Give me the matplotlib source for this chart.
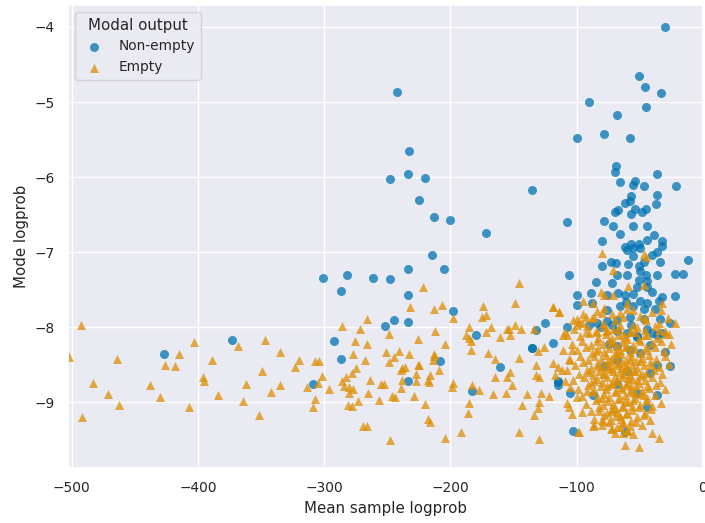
import matplotlib
matplotlib.use("Agg")
import matplotlib.pyplot as plt
import seaborn as sns

# Non-empty modal output (blue circles): (mean sample logprob, mode logprob)
nonempty_x = [
    -30, -51, -46, -33, -90, -45, -68, -100, -78, -58, -69, -70, -36, -21, -135,
    -242, -233, -248, -234, -220, -225, -213, -200, -172, -108,
    -215, -205, -234, -261, -282, -301, -248, -287, -234, -198, -234, -252, -245,
    -180, -292, -287, -309, -208, -161, -234, -183, -373, -427,
    -125, -132, -135,
    -66, -54, -55, -47, -36, -57, -62, -58, -37, -70, -67, -57, -54, -48, -45,
    -78, -71, -55, -44, -66, -39, -80, -32, -44, -32, -62, -57, -51, -60, -55,
    -50, -36, -40, -55, -12, -34, -73, -69, -59, -47, -80, -51,
    -106, -85, -68, -60, -50, -45, -44, -51, -72, -52, -44, -67, -89, -100, -76,
    -62, -55, -40, -32, -22, -36, -16, -22, -100, -88, -61, -50, -44, -35, -66, -55,
    -47, -38, -76, -108, -84, -68, -76, -58, -47, -34, -26, -44, -40, -32, -52,
    -68, -60, -72, -81, -90, -57,
    -119, -74, -68, -52, -42, -30, -36, -26, -78, -68, -60, -42, -115, -50, -58, -36,
    -115, -105, -103, -62, -36, -44, -52, -68, -87, -115, -135,
]
nonempty_y = [
    -4.0, -4.65, -4.8, -4.88, -5.0, -5.07, -5.17, -5.48, -5.43, -5.48, -5.85, -5.93, -5.96, -6.12, -6.17,
    -4.87, -5.65, -6.03, -5.96, -6.01, -6.31, -6.53, -6.57, -6.75, -6.6,
    -7.04, -7.23, -7.23, -7.35, -7.31, -7.35, -7.36, -7.52, -7.57, -7.79, -7.93, -7.99, -7.91,
    -8.11, -8.19, -8.43, -8.76, -8.45, -8.53, -8.72, -8.85, -8.17, -8.36,
    -7.95, -8.04, -8.28,
    -6.07, -6.05, -6.1, -6.12, -6.24, -6.25, -6.35, -6.32, -6.36, -6.47, -6.44, -6.49, -6.43, -6.47, -6.42,
    -6.59, -6.65, -6.65, -6.65, -6.76, -6.77, -6.85, -6.85, -6.84, -6.92, -6.93, -6.89, -6.89, -6.97, -6.95,
    -6.95, -7.0, -7.04, -7.05, -7.1, -7.13, -7.13, -7.15, -7.16, -7.13, -7.19, -7.19,
    -7.31, -7.4, -7.31, -7.31, -7.25, -7.31, -7.39, -7.37, -7.41, -7.47, -7.47, -7.55, -7.55, -7.57, -7.57,
    -7.57, -7.56, -7.53, -7.6, -7.59, -7.31, -7.29, -7.29, -7.71, -7.68, -7.67, -7.65, -7.68, -7.65, -7.72, -7.72,
    -7.76, -7.76, -7.77, -8.0, -7.95, -7.91, -7.92, -7.87, -7.89, -7.89, -7.95, -8.03, -8.08, -8.08, -8.12,
    -8.05, -8.08, -7.97, -8.0, -7.97, -7.97,
    -8.21, -8.23, -8.25, -8.13, -8.24, -8.33, -8.51, -8.52, -8.52, -8.44, -8.59, -8.61, -8.73, -8.35, -8.31, -8.11,
    -8.77, -8.88, -9.39, -9.4, -8.91, -9.07, -8.88, -8.76, -8.91, -8.72, -8.28,
]

# Empty modal output (orange triangles)
empty_x = [
    -493, -502, -483, -464, -471, -463, -492, -438, -430, -426, -418, -415, -403, -407,
    -396, -395, -389, -384, -368, -347, -362, -349, -364, -352, -342, -335,
    -335, -323, -320, -314, -307, -304, -302, -305, -307, -309, -296, -286, -286, -283,
    -284, -280, -280, -277, -275, -277, -276, -278, -281, -278, -273, -272, -266, -266,
    -268, -264, -265, -257, -269, -266, -255, -253, -251, -249, -245, -249, -248, -246,
    -244, -241, -239, -238, -236, -239, -238, -233, -232, -226, -229, -227, -227, -225,
    -220, -218, -222, -213, -207, -212, -204, -216, -218, -204, -192, -186, -185, -198,
    -199, -183, -177, -166, -156, -165, -155, -170, -165, -184, -184, -185, -188, -185,
    -174, -175, -172, -168, -172, -161, -155, -213, -209, -216, -217, -226, -198, -146,
    -149, -154, -149, -144, -153, -134, -126, -131, -146, -213, -214, -153, -151, -132,
    -132, -130, -139, -128, -122, -143, -130, -131, -134, -146, -130, -119, -114, -119,
    -115, -112, -117, -106, -104, -98, -86, -80, -72, -63, -59, -62, -51, -40, -35,
    -80, -47, -45, -71, -59, -47, -81, -71, -78, -87, -95, -119, -114, -78, -60, -55,
    -66, -80, -86, -93, -100, -32, -33, -46, -22, -27, -35, -100, -96, -93, -111, -84,
    -76, -63, -54, -46, -96, -87, -79, -73, -66, -99,
    -109, -103, -108, -111, -104, -105, -108, -109, -105, -100, -108,
    -95, -84, -72, -60, -50, -40,
    -98, -88, -79, -70, -63, -55, -45, -35, -28,
    -102, -92, -85, -78, -71, -66, -58, -52, -46, -38, -30,
    -97, -90, -83, -77, -72, -67, -62, -57, -51, -44, -36, -29,
    -104, -96, -89, -84, -79, -74, -69, -64, -60, -55, -50, -45, -40, -33, -25,
    -100, -93, -88, -83, -78, -74, -70, -66, -62, -58, -54, -49, -44, -38, -31,
    -106, -97, -91, -86, -81, -77, -73, -69, -65, -61, -57, -53, -48, -43, -37, -30,
    -101, -95, -89, -84, -80, -76, -72, -68, -64, -60, -56, -52, -47, -42, -35, -27,
    -98, -92, -87, -82, -78, -74, -70, -66, -62, -58, -54, -50, -45, -39, -32,
    -103, -94, -89, -84, -80, -76, -72, -68, -64, -60, -56, -51, -46, -40, -34,
    -99, -91, -86, -81, -77, -73, -69, -65, -61, -57, -53, -48, -43, -37, -30,
    -96, -88, -83, -78, -74, -70, -66, -62, -58, -54, -49, -44, -38,
    -93, -85, -79, -75, -71, -67, -63, -59, -55, -50, -45, -40, -33,
    -89, -82, -76, -72, -68, -64, -60, -56, -51, -46, -41,
    -86, -78, -73, -69, -65, -61, -57, -52, -47, -42,
    -80, -74, -68, -63, -58, -53, -48,
    -70, -60, -55,
    -65, -63, -67, -71, -59, -61, -69, -75, -55, -73, -57, -79, -64, -52, -68, -76,
    -58, -83, -62, -70, -48, -86, -66, -54, -80, -60, -72, -85, -50, -44, -90, -92,
    -67, -77, -56, -63, -73, -82, -47, -41,
]
empty_y = [
    -7.97, -8.4, -8.75, -8.43, -8.89, -9.04, -9.2, -8.77, -8.93, -8.51, -8.52, -8.36, -8.2, -9.07,
    -8.67, -8.72, -8.44, -8.91, -8.25, -8.17, -8.76, -8.59, -8.99, -9.17, -8.87, -8.33,
    -8.77, -8.53, -8.44, -8.8, -8.45, -8.45, -8.65, -8.75, -8.96, -9.07, -8.83, -7.99, -8.72, -8.67,
    -8.79, -8.8, -8.88, -8.83, -8.55, -8.36, -8.19, -8.61, -9.04, -9.05, -8.99, -8.03, -7.89, -8.23,
    -8.44, -8.71, -8.88, -8.97, -9.32, -9.32, -8.76, -8.76, -8.33, -8.47, -8.4, -8.09, -9.51, -8.92,
    -8.93, -8.32, -8.57, -8.55, -8.53, -8.81, -8.71, -8.36, -7.73, -8.16, -8.92, -8.63, -8.72, -8.51,
    -9.03, -8.71, -7.47, -7.76, -7.71, -8.05, -8.23, -9.27, -9.23, -9.48, -9.4, -9.15, -9.01, -8.75,
    -8.8, -8.77, -8.84, -8.89, -8.88, -8.67, -8.67, -8.35, -8.43, -8.31, -8.19, -8.15, -8.11, -8.0,
    -7.72, -7.87, -7.84, -8.0, -8.07, -8.13, -8.03, -8.36, -8.57, -8.64, -8.73, -8.51, -7.88, -7.41,
    -7.68, -8.03, -7.97, -8.03, -8.11, -8.03, -8.27, -8.32, -8.41, -8.39, -8.44, -8.6, -8.77, -8.51,
    -8.64, -8.67, -8.89, -8.88, -8.92, -9.04, -9.0, -9.08, -9.17, -9.4, -9.49, -7.73, -7.8, -8.48,
    -8.53, -8.57, -8.64, -9.07, -9.16, -9.4, -9.31, -9.24, -9.36, -9.41, -9.39, -9.57, -9.6, -9.41, -9.48,
    -7.01, -7.02, -7.06, -7.24, -7.45, -7.44, -7.53, -7.57, -7.57, -7.68, -7.65, -7.73, -7.8, -7.75, -7.68, -7.77,
    -7.81, -7.81, -7.87, -7.87, -7.89, -7.68, -7.77, -7.88, -7.95, -8.09, -8.04, -7.97, -7.95, -8.07, -8.11, -8.07,
    -8.04, -8.09, -8.07, -8.11, -9.13, -9.32, -9.25, -9.36, -9.33, -9.4,
    -8.07, -7.91, -8.11, -8.31, -8.31, -8.44, -8.57, -8.72, -8.8, -8.93, -9.01,
    -7.82, -7.78, -7.83, -7.76, -7.85, -7.8,
    -7.93, -7.88, -7.95, -7.9, -7.86, -7.97, -7.91, -7.94, -7.88,
    -8.02, -7.98, -8.05, -7.99, -8.03, -7.97, -8.06, -8.0, -8.04, -7.98, -8.05,
    -8.12, -8.08, -8.14, -8.09, -8.15, -8.1, -8.13, -8.07, -8.16, -8.11, -8.14, -8.09,
    -8.22, -8.18, -8.24, -8.19, -8.23, -8.17, -8.25, -8.2, -8.16, -8.24, -8.19, -8.26, -8.21, -8.18, -8.23,
    -8.31, -8.27, -8.34, -8.29, -8.33, -8.28, -8.35, -8.3, -8.26, -8.33, -8.29, -8.35, -8.3, -8.27, -8.32,
    -8.42, -8.38, -8.44, -8.39, -8.43, -8.37, -8.45, -8.4, -8.36, -8.44, -8.39, -8.45, -8.41, -8.37, -8.43, -8.39,
    -8.51, -8.47, -8.54, -8.49, -8.53, -8.46, -8.55, -8.5, -8.47, -8.54, -8.49, -8.55, -8.51, -8.46, -8.53, -8.49,
    -8.62, -8.57, -8.64, -8.59, -8.63, -8.56, -8.65, -8.6, -8.57, -8.64, -8.59, -8.65, -8.61, -8.57, -8.63,
    -8.71, -8.67, -8.74, -8.69, -8.73, -8.66, -8.75, -8.7, -8.67, -8.74, -8.69, -8.75, -8.71, -8.66, -8.73,
    -8.82, -8.77, -8.84, -8.79, -8.83, -8.76, -8.85, -8.8, -8.77, -8.84, -8.79, -8.85, -8.81, -8.77, -8.83,
    -8.92, -8.87, -8.94, -8.89, -8.93, -8.86, -8.95, -8.9, -8.87, -8.94, -8.89, -8.95, -8.91,
    -9.02, -8.97, -9.04, -8.99, -9.03, -8.96, -9.05, -9.0, -8.97, -9.04, -8.99, -9.05, -9.01,
    -9.12, -9.07, -9.14, -9.09, -9.13, -9.06, -9.15, -9.1, -9.07, -9.14, -9.09,
    -9.22, -9.17, -9.24, -9.19, -9.23, -9.16, -9.25, -9.2, -9.17, -9.24,
    -9.31, -9.27, -9.33, -9.28, -9.32, -9.26, -9.3,
    -9.41, -9.37, -9.43,
    -8.55, -8.62, -8.48, -8.58, -8.68, -8.5, -8.72, -8.52, -8.58, -8.42, -8.78, -8.62, -8.82, -8.7, -8.33, -8.78,
    -8.43, -8.52, -8.98, -9.08, -8.62, -8.72, -9.18, -8.88, -8.95, -8.25, -8.2, -8.32, -8.45, -8.78, -8.6, -8.85,
    -8.02, -8.05, -9.05, -9.28, -9.12, -9.12, -8.9, -8.5,
]

sns.set_theme(style="darkgrid", font_scale=0.9)
pal = sns.color_palette("colorblind")

fig = plt.figure(figsize=(7.05, 5.23), dpi=100)
ax = fig.add_axes([0.0965, 0.105, 0.9005, 0.885])

ax.scatter(nonempty_x, nonempty_y, s=42, marker="o", color=pal[0], alpha=0.75,
           linewidths=0, label="Non-empty")
ax.scatter(empty_x, empty_y, s=42, marker="^", color=pal[1], alpha=0.75,
           linewidths=0, label="Empty")

ax.set_xlim(-503, 0)
ax.set_ylim(-9.88, -3.71)
ax.set_xlabel("Mean sample logprob")
ax.set_ylabel("Mode logprob")
ax.legend(title="Modal output", loc="upper left")

fig.savefig("out.png", dpi=100)
